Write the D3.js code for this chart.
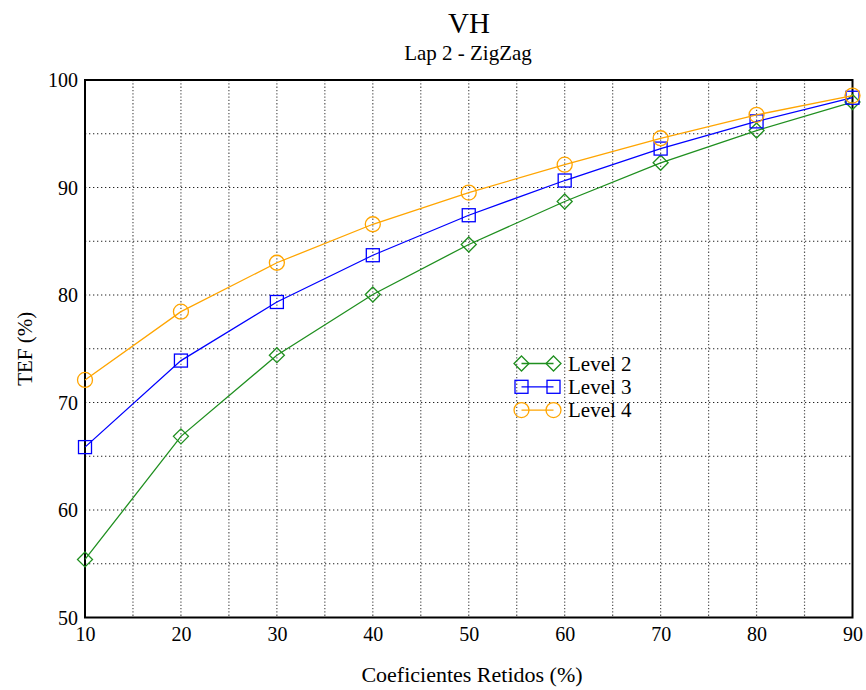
<!DOCTYPE html>
<html>
<head>
<meta charset="utf-8">
<script src="https://cdn.jsdelivr.net/npm/d3@7"></script>
<style>
  html, body { margin: 0; padding: 0; background: #fff; }
  svg { display: block; }
  text { font-family: "Liberation Serif", "DejaVu Serif", serif; fill: #000; }
</style>
</head>
<body>
<script>
// Retained coefficients (%) on the x axis
const coeficientes = [10, 20, 30, 40, 50, 60, 70, 80, 90];

// TEF (%) for each decomposition level
const level2 = [55.4, 66.85, 74.4, 80.05, 84.7, 88.7, 92.3, 95.3, 97.95];
const level3 = [65.85, 73.9, 79.35, 83.7, 87.42, 90.65, 93.62, 96.15, 98.35];
const level4 = [72.1, 78.45, 83.0, 86.58, 89.53, 92.12, 94.58, 96.76, 98.55];

const seriesNames = ["Level 2", "Level 3", "Level 4"];
const xTicks = [10, 20, 30, 40, 50, 60, 70, 80, 90];
const yTicks = [50, 60, 70, 80, 90, 100];

const title = "VH";
const subtitle = "Lap 2 - ZigZag";
const xLabel = "Coeficientes Retidos (%)";
const yLabel = "TEF (%)";

const W = 866, H = 690;
const plot = { left: 85, right: 852.5, top: 80, bottom: 617.5 };

const svg = d3.select("body").append("svg")
  .attr("width", W).attr("height", H);

const x = d3.scaleLinear().domain([10, 90]).range([plot.left, plot.right]);
const y = d3.scaleLinear().domain([50, 100]).range([plot.bottom, plot.top]);

// Grid: every 5 units in both directions
const gridX = d3.range(15, 90, 5);
const gridY = d3.range(55, 100, 5);

svg.append("g").selectAll("line").data(gridX).join("line")
  .attr("x1", d => x(d)).attr("x2", d => x(d))
  .attr("y1", plot.top).attr("y2", plot.bottom)
  .attr("stroke", "#555").attr("stroke-width", 1.2)
  .attr("stroke-dasharray", "1.3,2");

svg.append("g").selectAll("line").data(gridY).join("line")
  .attr("x1", plot.left).attr("x2", plot.right)
  .attr("y1", d => y(d)).attr("y2", d => y(d))
  .attr("stroke", "#222").attr("stroke-width", 1.2)
  .attr("stroke-dasharray", "1.3,2.7");

// Axes (labels only, no tick marks)
const xAxis = d3.axisBottom(x).tickValues(xTicks).tickSize(0).tickPadding(9)
  .tickFormat(d3.format("d"));
const yAxis = d3.axisLeft(y).tickValues(yTicks).tickSize(0).tickPadding(7)
  .tickFormat(d3.format("d"));

const gx = svg.append("g").attr("transform", `translate(0,${plot.bottom})`).call(xAxis);
const gy = svg.append("g").attr("transform", `translate(${plot.left},0)`).call(yAxis);
[gx, gy].forEach(g => {
  g.select(".domain").remove();
  g.selectAll("text").style("font-family", "Liberation Serif, serif")
    .style("font-size", "20px").attr("fill", "#000");
});
gx.selectAll("text").attr("dy", "0.71em");
gy.selectAll("text").attr("dy", "0.33em");

// Frame
svg.append("rect")
  .attr("x", plot.left).attr("y", plot.top)
  .attr("width", plot.right - plot.left).attr("height", plot.bottom - plot.top)
  .attr("fill", "none").attr("stroke", "#000").attr("stroke-width", 2);

// Titles
svg.append("text").attr("x", 469).attr("y", 33).attr("text-anchor", "middle")
  .style("font-size", "29px").text(title);
svg.append("text").attr("x", 468).attr("y", 60).attr("text-anchor", "middle")
  .style("font-size", "21px").text(subtitle);
svg.append("text").attr("x", 472).attr("y", 682).attr("text-anchor", "middle")
  .style("font-size", "22px").text(xLabel);
svg.append("text")
  .attr("transform", `translate(32,${(plot.top + plot.bottom) / 2}) rotate(-90)`)
  .attr("text-anchor", "middle").style("font-size", "21px").text(yLabel);

// Marker shapes
const markers = {
  diamond: (g, cx, cy, c) => g.append("path")
    .attr("d", `M${cx},${cy - 7.5}L${cx + 7.5},${cy}L${cx},${cy + 7.5}L${cx - 7.5},${cy}Z`)
    .attr("fill", "none").attr("stroke", c).attr("stroke-width", 1.3),
  square: (g, cx, cy, c) => g.append("rect")
    .attr("x", cx - 6.5).attr("y", cy - 6.5).attr("width", 13).attr("height", 13)
    .attr("fill", "none").attr("stroke", c).attr("stroke-width", 1.3),
  circle: (g, cx, cy, c) => g.append("circle")
    .attr("cx", cx).attr("cy", cy).attr("r", 7.5)
    .attr("fill", "none").attr("stroke", c).attr("stroke-width", 1.3)
};

const series = [
  { name: seriesNames[0], values: level2, color: "#1f8f1f", marker: "diamond" },
  { name: seriesNames[1], values: level3, color: "#0000ff", marker: "square" },
  { name: seriesNames[2], values: level4, color: "#ffa500", marker: "circle" }
];

const line = d3.line().x(d => x(d[0])).y(d => y(d[1]));

series.forEach(s => {
  const pts = coeficientes.map((c, i) => [c, s.values[i]]);
  const g = svg.append("g");
  g.append("path").datum(pts).attr("d", line)
    .attr("fill", "none").attr("stroke", s.color).attr("stroke-width", 1.3);
  pts.forEach(p => markers[s.marker](g, x(p[0]), y(p[1]), s.color));
});

// Legend
const legend = svg.append("g");
series.forEach((s, i) => {
  const ly = 363.5 + i * 23.3;
  legend.append("line").attr("x1", 521.5).attr("x2", 553.5).attr("y1", ly).attr("y2", ly)
    .attr("stroke", s.color).attr("stroke-width", 1.3);
  markers[s.marker](legend, 521.5, ly, s.color);
  markers[s.marker](legend, 553.5, ly, s.color);
  legend.append("text").attr("x", 568).attr("y", ly).attr("dy", "0.35em")
    .style("font-size", "21px").text(s.name);
});
</script>
</body>
</html>
